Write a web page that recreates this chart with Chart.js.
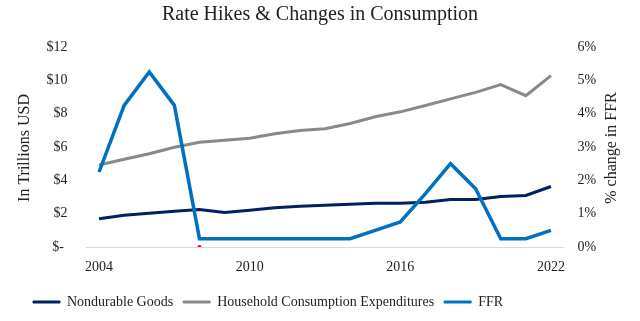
<!DOCTYPE html>
<html>
<head>
<meta charset="utf-8">
<script src="https://cdn.jsdelivr.net/npm/chart.js@4/dist/chart.umd.min.js"></script>
<style>
    html, body { margin: 0; padding: 0; background: #ffffff; }
    #wrap { width: 640px; height: 321px; position: relative; }
</style>
</head>
<body>
<div id="wrap"><canvas id="rateChart"></canvas></div>
<script>
// Years on the x axis
const years = ['2004', '2005', '2006', '2007', '2008', '2009', '2010', '2011', '2012', '2013',
               '2014', '2015', '2016', '2017', '2018', '2019', '2020', '2021', '2022'];

// Trillions USD
const nondurableGoods = [1.69, 1.91, 2.03, 2.15, 2.25, 2.07, 2.21, 2.35, 2.45, 2.51,
                         2.57, 2.63, 2.63, 2.68, 2.85, 2.85, 3.03, 3.09, 3.63];
const householdConsumption = [4.92, 5.26, 5.60, 5.98, 6.28, 6.40, 6.52, 6.80, 6.99, 7.10,
                              7.41, 7.81, 8.11, 8.49, 8.89, 9.28, 9.74, 9.08, 10.28];

// Percent (right axis)
const ffr = [2.25, 4.25, 5.25, 4.25, 0.25, 0.25, 0.25, 0.25, 0.25, 0.25,
             0.25, 0.5, 0.75, 1.6, 2.5, 1.75, 0.25, 0.25, 0.5];

// small red marker sitting on the baseline
const marker = years.map(y => (y === '2008' ? 0 : null));

const shownYears = ['2004', '2010', '2016', '2022'];
const leftTitle = 'In Trillions USD';
const rightTitle = '% change in FFR';
const serif = "'Liberation Serif', 'DejaVu Serif', serif";
const textColor = '#222222';

// Both axis titles read bottom-to-top, so draw them by hand
const axisTitles = {
    id: 'axisTitles',
    afterDraw(chart) {
        const c = chart.ctx;
        const area = chart.chartArea;
        const midY = (area.top + area.bottom) / 2 + 1;
        c.save();
        c.fillStyle = textColor;
        c.font = '16px ' + serif;
        c.textAlign = 'center';
        c.textBaseline = 'middle';
        [[25, leftTitle], [612, rightTitle]].forEach(([x, text]) => {
            c.save();
            c.translate(x, midY);
            c.rotate(-Math.PI / 2);
            c.fillText(text, 0, 0);
            c.restore();
        });
        c.restore();
    }
};

// Legend sits a little left of centre
const legendShift = {
    id: 'legendShift',
    afterLayout(chart) {
        chart.legend.left = 23;
    }
};

const ctx = document.getElementById('rateChart').getContext('2d');

new Chart(ctx, {
    type: 'line',
    data: {
        labels: years,
        datasets: [
            {
                label: 'Nondurable Goods',
                data: nondurableGoods,
                borderColor: '#002060',
                backgroundColor: '#002060',
                borderWidth: 3,
                pointRadius: 0,
                yAxisID: 'y',
                order: 2
            },
            {
                label: 'Household Consumption Expenditures',
                data: householdConsumption,
                borderColor: '#898989',
                backgroundColor: '#898989',
                borderWidth: 3,
                pointRadius: 0,
                yAxisID: 'y',
                order: 3
            },
            {
                label: 'FFR',
                data: ffr,
                borderColor: '#0070C0',
                backgroundColor: '#0070C0',
                borderWidth: 3.5,
                pointRadius: 0,
                yAxisID: 'y1',
                order: 1
            },
            {
                label: 'marker',
                data: marker,
                showLine: false,
                pointRadius: 2,
                pointBackgroundColor: '#ff0000',
                pointBorderWidth: 0,
                yAxisID: 'y',
                order: 0
            }
        ]
    },
    options: {
        responsive: true,
        maintainAspectRatio: false,
        animation: false,
        layout: {
            padding: { left: 0, right: 0, top: 2, bottom: 2 }
        },
        plugins: {
            title: {
                display: true,
                text: 'Rate Hikes & Changes in Consumption',
                color: textColor,
                font: { family: serif, size: 20, weight: 'normal' },
                padding: { top: 1, bottom: 20 }
            },
            legend: {
                position: 'bottom',
                align: 'start',
                labels: {
                    color: textColor,
                    font: { family: serif, size: 14 },
                    boxWidth: 27,
                    boxHeight: 2,
                    padding: 10,
                    sort: (a, b) => a.datasetIndex - b.datasetIndex,
                    generateLabels: chart => Chart.defaults.plugins.legend.labels
                        .generateLabels(chart)
                        .filter(item => item.text !== 'marker')
                        .map(item => Object.assign(item, { lineWidth: 1 }))
                }
            },
            tooltip: { enabled: false }
        },
        scales: {
            x: {
                offset: true,
                grid: { display: false, drawTicks: false },
                border: { display: true, color: '#d9d9d9', width: 1 },
                afterFit: scale => { scale.height = 38; },
                ticks: {
                    color: textColor,
                    font: { family: serif, size: 14 },
                    autoSkip: false,
                    maxRotation: 0,
                    padding: 12,
                    callback: function(value) {
                        const label = this.getLabelForValue(value);
                        return shownYears.includes(label) ? label : '';
                    }
                }
            },
            y: {
                position: 'left',
                min: 0,
                max: 12,
                grid: { display: false, drawTicks: false },
                border: { display: false },
                afterFit: scale => { scale.width = 86.5; },
                ticks: {
                    stepSize: 2,
                    color: textColor,
                    font: { family: serif, size: 14 },
                    padding: 19,
                    callback: v => (v === 0 ? '$- ' : '$' + v)
                }
            },
            y1: {
                position: 'right',
                min: 0,
                max: 6,
                grid: { display: false, drawTicks: false },
                border: { display: false },
                afterFit: scale => { scale.width = 76.5; },
                ticks: {
                    stepSize: 1,
                    color: textColor,
                    font: { family: serif, size: 14 },
                    padding: 14,
                    callback: v => v + '%'
                }
            }
        }
    },
    plugins: [axisTitles, legendShift]
});
</script>
</body>
</html>
